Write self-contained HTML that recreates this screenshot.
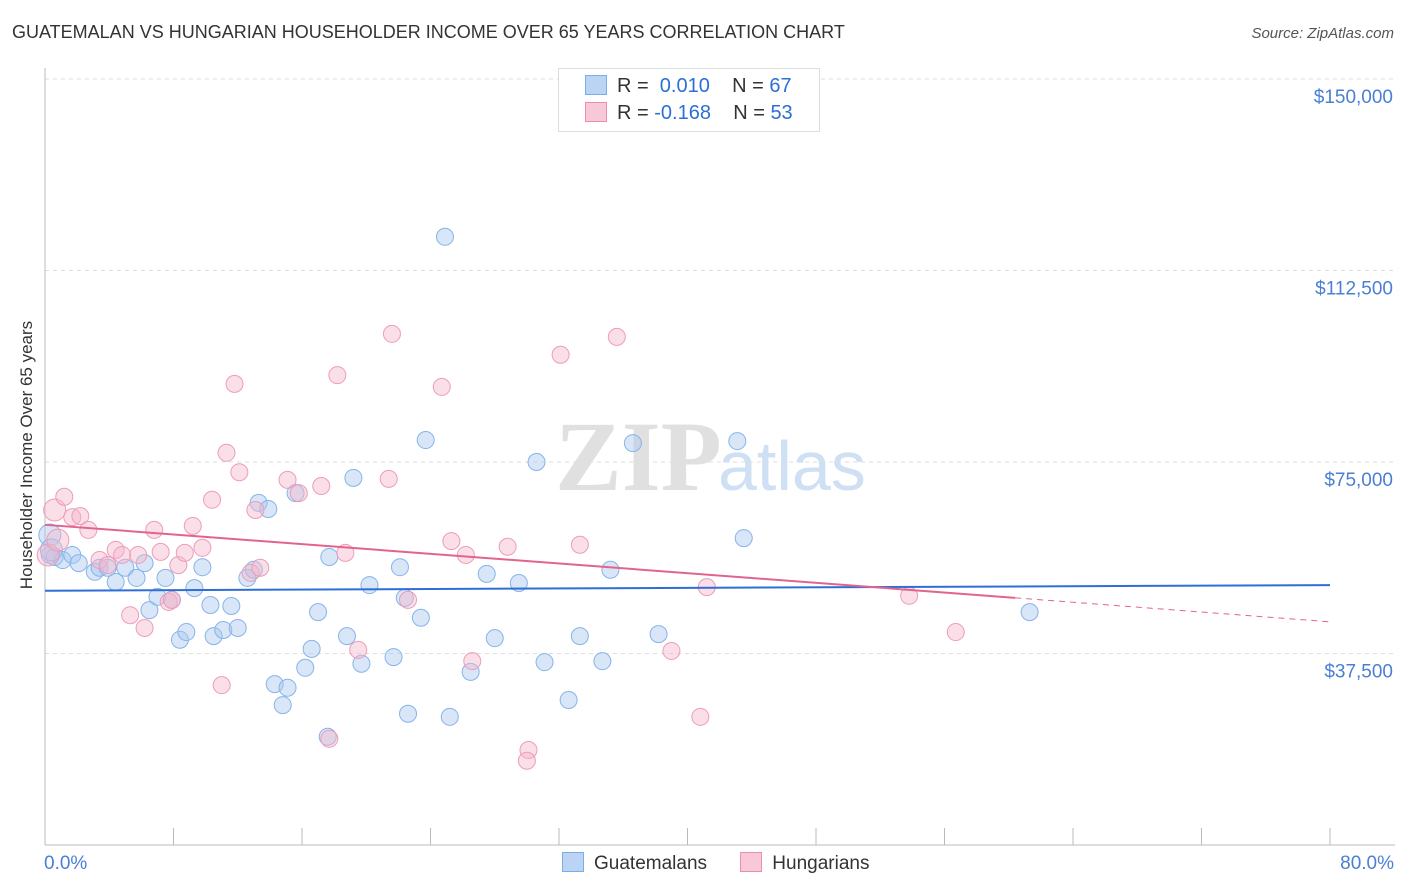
<!DOCTYPE html>
<html><head><meta charset="utf-8"><style>
body{margin:0;background:#fff;font-family:"Liberation Sans",sans-serif;}
#wrap{position:relative;width:1406px;height:892px;overflow:hidden}
.t{position:absolute;white-space:nowrap}
</style></head><body>
<div id="wrap">
<div class="t" style="left:12px;top:22px;font-size:18px;color:#333">GUATEMALAN VS HUNGARIAN HOUSEHOLDER INCOME OVER 65 YEARS CORRELATION CHART</div>
<div class="t" style="right:12px;top:25px;font-size:15px;color:#555;font-style:italic">Source: ZipAtlas.com</div>
<svg id="plot" width="1406" height="892" style="position:absolute;left:0;top:0"></svg>
</div>
<script>
const yTicks=[37500,75000,112500,150000];
const yTickLabels=["$37,500","$75,000","$112,500","$150,000"];
const guatX=[0.3,0.6,1.1,1.7,2.1,3.1,3.4,3.9,4.4,5.0,5.7,6.2,6.5,7.0,7.5,7.9,8.4,8.8,9.3,9.8,10.3,10.5,11.1,11.6,12.0,12.6,13.0,13.3,13.9,14.3,14.8,15.1,15.6,16.2,16.6,17.0,17.6,17.7,18.8,19.2,19.7,20.2,21.7,22.1,22.4,22.6,23.4,23.7,24.9,25.2,26.5,27.5,28.0,29.5,30.6,31.1,32.6,33.3,34.7,35.2,36.6,38.2,43.1,43.5,61.3,0.3,0.4];
const guatY=[56.8,56.4,55.8,56.8,55.2,53.5,54.3,54.3,51.5,54.3,52.3,55.2,46.0,48.6,52.3,48.0,40.2,41.7,50.3,54.4,47.0,40.9,42.1,46.8,42.5,52.3,53.9,67.0,65.8,31.5,27.4,30.8,68.9,34.7,38.4,45.6,21.2,56.4,40.9,71.9,35.5,50.9,36.8,54.4,48.4,25.7,44.5,79.3,119.1,25.1,33.9,53.1,40.5,51.3,75.0,35.8,28.4,40.9,36.0,53.9,78.7,41.3,79.1,60.1,45.6,60.7,57.8];
const hungX=[0.2,0.6,0.8,1.2,1.7,2.2,2.7,3.4,3.9,4.4,4.8,5.3,5.8,6.2,6.8,7.2,7.7,7.9,8.3,8.7,9.2,9.8,10.4,11.0,11.3,11.8,12.1,12.8,13.1,13.4,15.1,15.8,17.2,17.7,18.2,18.7,19.5,21.4,21.6,22.6,24.7,25.3,26.2,26.6,28.8,30.1,30.0,32.1,33.3,35.6,39.0,40.8,41.2,53.8,56.7];
const hungY=[56.8,65.6,59.7,68.2,64.2,64.4,61.7,55.8,54.8,57.8,56.8,45.0,56.8,42.5,61.7,57.4,47.6,48.0,54.8,57.2,62.5,58.2,67.6,31.3,76.8,90.3,73.0,53.3,65.6,54.3,71.5,68.9,70.3,20.8,92.0,57.2,38.2,71.7,100.1,48.0,89.7,59.5,56.8,36.0,58.4,18.6,16.5,96.0,58.8,99.5,38.0,25.1,50.5,48.8,41.7];
const guatTrend=[49.8,50.9];
const hungTrend=[62.7,48.4,43.7];
const hungTrendX=[0,60.4,80];

const NS="http://www.w3.org/2000/svg";
const svg=document.getElementById('plot');
const X=p=>45+p/80*1285;
const Y=k=>79+(150-k)/37.5*191.5;
function mk(tag,attrs){const e=document.createElementNS(NS,tag);for(const k in attrs)e.setAttribute(k,attrs[k]);svg.appendChild(e);return e;}
yTicks.forEach((v,i)=>{
 const g=mk('line',{x1:45,x2:1395,y1:Y(v/1000),y2:Y(v/1000),stroke:'#ddd','stroke-dasharray':'4,4'});
 
 
 const t=mk('text',{x:1393,y:Y(v/1000)+24,'text-anchor':'end','font-size':19,fill:'#4a7fd4','font-family':'Liberation Sans'});
 t.textContent=yTickLabels[i];
 
 
});
const ax=mk('line',{x1:45,x2:45,y1:68,y2:845,stroke:'#bbb'});


const bx=mk('line',{x1:45,x2:1395,y1:845,y2:845,stroke:'#bbb'});


for(let i=0;i<=10;i++){const tk=mk('line',{x1:X(i*8),x2:X(i*8),y1:828,y2:845,stroke:'#bbb'});
 
 }
const w1=mk('text',{x:555,y:490,'font-size':100,fill:'#e0e0e0','font-family':'Liberation Serif','font-weight':'bold'});
w1.textContent='ZIP';


const w2=mk('text',{x:718,y:490,'font-size':70,fill:'#d0e0f4','font-family':'Liberation Sans'});
w2.textContent='atlas';


guatX.forEach((x,i)=>{const c=mk('circle',{cx:X(x),cy:Y(guatY[i]),r:i>=65?11:8.5,fill:'rgba(168,200,240,0.45)',stroke:'#86b4ea','stroke-width':1});
 
 });
hungX.forEach((x,i)=>{const c=mk('circle',{cx:X(x),cy:Y(hungY[i]),r:i<3?11:8.5,fill:'rgba(245,184,204,0.45)',stroke:'#ee9cba','stroke-width':1});
 
 });
const bl=mk('line',{x1:X(0),y1:Y(guatTrend[0]),x2:X(80),y2:Y(guatTrend[1]),stroke:'#2d6fd6','stroke-width':2});


const pl=mk('line',{x1:X(hungTrendX[0]),y1:Y(hungTrend[0]),x2:X(hungTrendX[1]),y2:Y(hungTrend[1]),stroke:'#e2648e','stroke-width':2});


const pd=mk('line',{x1:X(hungTrendX[1]),y1:Y(hungTrend[1]),x2:X(hungTrendX[2]),y2:Y(hungTrend[2]),stroke:'#e2648e','stroke-width':1,'stroke-dasharray':'6,5'});


</script>
<div class="t" style="left:-133px;top:445px;width:320px;text-align:center;transform:rotate(-90deg);font-size:17px;color:#333">Householder Income Over 65 years</div>
<div class="t" style="left:44px;top:853px;font-size:19px;color:#4a7fd4">0.0%</div>
<div class="t" style="right:12px;top:853px;font-size:19px;color:#4a7fd4">80.0%</div>
<div style="position:absolute;left:558px;top:68px;width:260px;height:62px;border:1px solid #ddd;background:#fff;font-size:20px;color:#333">
 <div style="position:absolute;left:26px;top:6px;white-space:nowrap"><span style="display:inline-block;width:20px;height:18px;background:#bcd4f4;border:1px solid #7aaee8;vertical-align:-3px;margin-right:10px"></span>R = &nbsp;<span style="color:#2d6fd6">0.010</span>&nbsp;&nbsp;&nbsp; N = <span style="color:#2d6fd6">67</span></div>
 <div style="position:absolute;left:26px;top:33px;white-space:nowrap"><span style="display:inline-block;width:20px;height:18px;background:#f8c8d8;border:1px solid #eb8fb0;vertical-align:-3px;margin-right:10px"></span>R = <span style="color:#2d6fd6">-0.168</span>&nbsp;&nbsp;&nbsp; N = <span style="color:#2d6fd6">53</span></div>
</div>
<div style="position:absolute;left:562px;top:852px;font-size:19px;color:#333;white-space:nowrap">
 <span><span style="display:inline-block;width:20px;height:18px;background:#bcd4f4;border:1px solid #7aaee8;vertical-align:-3px;margin-right:10px"></span>Guatemalans</span>
 <span style="margin-left:28px"><span style="display:inline-block;width:20px;height:18px;background:#f8c8d8;border:1px solid #eb8fb0;vertical-align:-3px;margin-right:10px"></span>Hungarians</span>
</div>
</body></html>
